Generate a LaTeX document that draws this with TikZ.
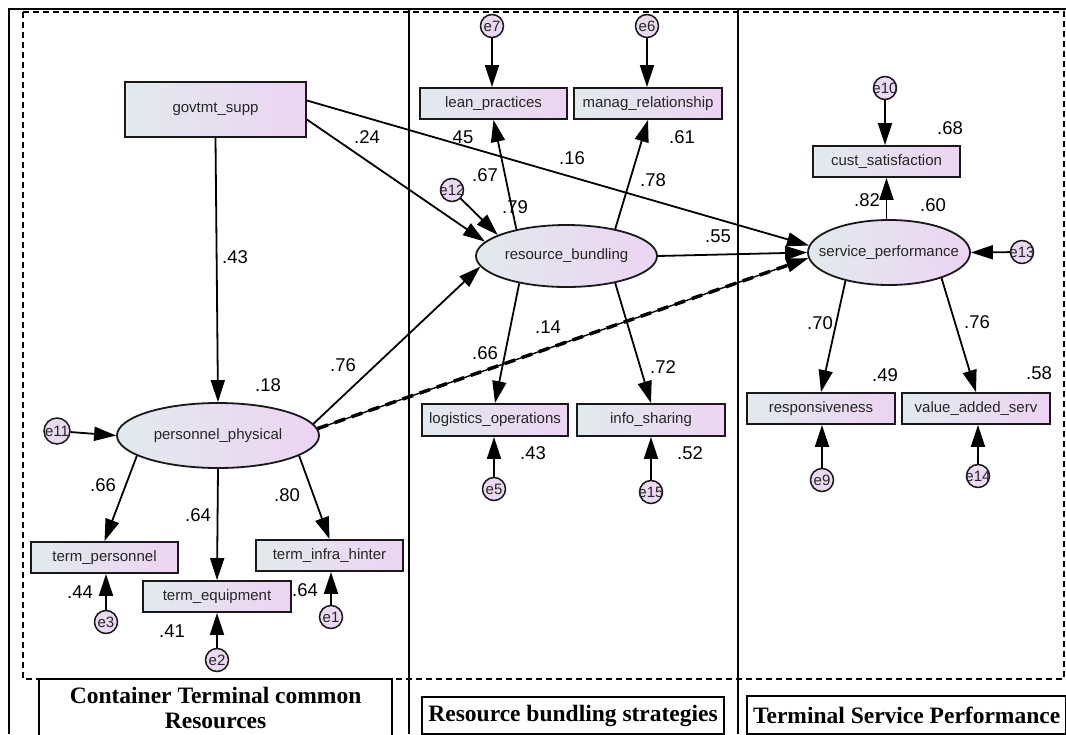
\documentclass[tikz,border=0pt]{standalone}
\usepackage{fontspec}
\setmainfont{Liberation Serif}
\setsansfont{Liberation Sans}
\usetikzlibrary{arrows.meta,shapes.geometric,calc}
\definecolor{gl}{HTML}{E2EAED}
\definecolor{gr}{HTML}{ECD4F2}
\definecolor{ec}{HTML}{E9D9F1}
\newcommand\mbx[1]{\makebox[0pt]{#1}}
\begin{document}
\begin{tikzpicture}[x=1pt,y=-1pt,
 obs/.style={rectangle, draw=black!90, line width=1.8pt, left color=gl, right color=gr, inner sep=0pt,
   minimum height=31pt, minimum width=147pt, font=\sffamily\fontsize{15}{18}\selectfont, text=black!85},
 lat/.style={ellipse, draw=black!90, line width=1.8pt, left color=gl, right color=gr, inner sep=0pt,
   font=\sffamily\fontsize{15}{18}\selectfont, text=black!85},
 err/.style={circle, draw=black!90, line width=1.5pt, fill=ec, inner sep=0pt, minimum size=23pt,
   font=\sffamily\fontsize{15}{16}\selectfont, text=black!85},
 coef/.style={font=\sffamily\fontsize{18.5}{20}\selectfont, inner sep=0pt},
 arr/.style={line width=1.8pt, -{Triangle[length=22pt,width=14pt]}},
 ttl/.style={draw, line width=2.2pt, font=\rmfamily\bfseries\fontsize{23.5}{25.5}\selectfont, inner sep=0pt, align=center, anchor=north west}
]
\clip (0,0) rectangle (1066,734);
\fill[white] (0,0) rectangle (1066,734);
% frame
\draw[line width=2pt] (9,734) -- (9,9) -- (1066,9);
\draw[line width=2pt] (409,9) -- (409,734);
\draw[line width=2pt] (738,9) -- (738,734);
\draw[line width=1.2pt, dash pattern=on 6pt off 4pt] (23,12) rectangle (1064,679);
% titles
\node[ttl, minimum width=353pt, minimum height=58pt] (t1) at (38,678) {Container Terminal common\\Resources};
\node[ttl, minimum width=302pt, minimum height=37pt] (t2) at (421,696) {Resource bundling strategies};
\node[ttl, minimum width=319pt, minimum height=38pt] (t3) at (746,695) {Terminal Service Performance};
% observed
\node[obs, minimum width=181pt, minimum height=55pt] (govt) at (215.5,109.5) {\mbx{govtmt\_supp}};
\node[obs] (lean) at (493.5,103.5) {\mbx{lean\_practices}};
\node[obs, minimum width=148pt] (manag) at (648,103.5) {\mbx{manag\_relationship}};
\node[obs] (cust) at (886.5,161.5) {\mbx{cust\_satisfaction}};
\node[obs, minimum width=146pt, minimum height=32pt] (log) at (495,420) {\mbx{logistics\_operations}};
\node[obs, minimum width=148pt, minimum height=32pt] (info) at (651,420) {\mbx{info\_sharing}};
\node[obs, minimum width=148pt] (resp) at (821,408.5) {\mbx{responsiveness}};
\node[obs, minimum width=148pt] (vas) at (976,408.5) {\mbx{value\_added\_serv}};
\node[obs] (tp) at (104.5,557.5) {\mbx{term\_personnel}};
\node[obs, minimum width=148pt] (te) at (217,596.5) {\mbx{term\_equipment}};
\node[obs] (ti) at (329.5,555.5) {\mbx{term\_infra\_hinter}};
% latent
\node[lat, minimum width=181pt, minimum height=62pt] (rb) at (566.5,256) {\mbx{resource\_bundling}};
\node[lat, minimum width=162pt, minimum height=65pt] (sp) at (889,252.5) {\mbx{service\_performance}};
\node[lat, minimum width=202pt, minimum height=65pt] (pp) at (218,435.5) {\mbx{personnel\_physical}};
% errors
\node[err] (e7) at (492,26) {\mbx{e7}};
\node[err] (e6) at (647,26) {\mbx{e6}};
\node[err] (e12) at (452,190) {\mbx{e12}};
\node[err] (e10) at (885,88) {\mbx{e10}};
\node[err] (e13) at (1022,252) {\mbx{e13}};
\node[err] (e9) at (822,480) {\mbx{e9}};
\node[err] (e14) at (978,476) {\mbx{e14}};
\node[err] (e5) at (494,489) {\mbx{e5}};
\node[err] (e15) at (651,492) {\mbx{e15}};
\node[err, minimum size=26pt] (e11) at (57,431) {\mbx{e11}};
\node[err] (e3) at (106,622) {\mbx{e3}};
\node[err] (e2) at (217,660) {\mbx{e2}};
\node[err] (e1) at (331,617) {\mbx{e1}};
% coefficients
\node[coef] (c1) at (367,137) {.24};
\node[coef] (c2) at (463,137) {45};
\node[coef] (c3) at (572,158) {.16};
\node[coef] (c4) at (485,175) {.67};
\node[coef] (c5) at (515,207) {.79};
\node[coef] (c6) at (682,137) {.61};
\node[coef] (c7) at (653,180) {.78};
\node[coef] (c8) at (718,236) {.55};
\node[coef] (c9) at (235,257) {.43};
\node[coef] (c10) at (268,385) {.18};
\node[coef] (c11) at (343,365) {.76};
\node[coef] (c12) at (548,327) {.14};
\node[coef] (c13) at (485,353) {.66};
\node[coef] (c14) at (663,367) {.72};
\node[coef] (c15) at (533,453) {.43};
\node[coef] (c16) at (690,453) {.52};
\node[coef] (c17) at (950,128) {.68};
\node[coef] (c18) at (867,200) {.82};
\node[coef] (c19) at (933,205) {.60};
\node[coef] (c20) at (820,323) {.70};
\node[coef] (c21) at (977,322) {.76};
\node[coef] (c22) at (885,375) {.49};
\node[coef] (c23) at (1039,373) {.58};
\node[coef] (c24) at (103,485) {.66};
\node[coef] (c25) at (198,515) {.64};
\node[coef] (c26) at (287,495) {.80};
\node[coef] (c27) at (80,592) {.44};
\node[coef] (c28) at (172,631) {.41};
\node[coef] (c29) at (305,590) {.64};
% structural paths
\draw[arr] (govt.south) -- (pp.north);
\draw[arr] ($(govt.east)+(0,10)$) -- (rb.170);
\draw[arr] ($(govt.east)+(0,-9)$) -- (sp.175);
\draw[arr] (pp.7) -- (rb.187);
\draw[line width=1.4pt, -{Triangle[length=22pt,width=14pt]}] (pp.4) -- (sp.184);
\draw[line width=3.5pt, dash pattern=on 11pt off 7pt, shorten >=22pt] (pp.4) -- (sp.184);
\draw[arr] (rb.east) -- (sp.west);
\draw[arr] (e12) -- (rb.163);
\draw[arr] (e13) -- (sp.east);
\draw[arr] (e11) -- (pp.west);
% measurement paths
\draw[arr] (rb.152) -- (lean.south);
\draw[arr] (rb.29) -- (manag.south);
\draw[arr] (rb.210) -- (log.north);
\draw[arr] (rb.331) -- (info.north);
\draw[arr] (cust.south |- sp.north) -- (cust.south);
\draw[arr] (sp.213) -- (resp.north);
\draw[arr] (sp.334) -- (vas.north);
\draw[arr] (pp.194) -- (tp.north);
\draw[arr] (pp.south) -- (te.north);
\draw[arr] (pp.346) -- (ti.north);
% error paths
\draw[arr] (e7) -- (e7 |- lean.north);
\draw[arr] (e6) -- (e6 |- manag.north);
\draw[arr] (e10) -- (e10 |- cust.north);
\draw[arr] (e9) -- (e9 |- resp.south);
\draw[arr] (e14) -- (e14 |- vas.south);
\draw[arr] (e5) -- (e5 |- log.south);
\draw[arr] (e15) -- (e15 |- info.south);
\draw[arr] (e3) -- (e3 |- tp.south);
\draw[arr] (e2) -- (e2 |- te.south);
\draw[arr] (e1) -- (e1 |- ti.south);
\end{tikzpicture}
\end{document}
